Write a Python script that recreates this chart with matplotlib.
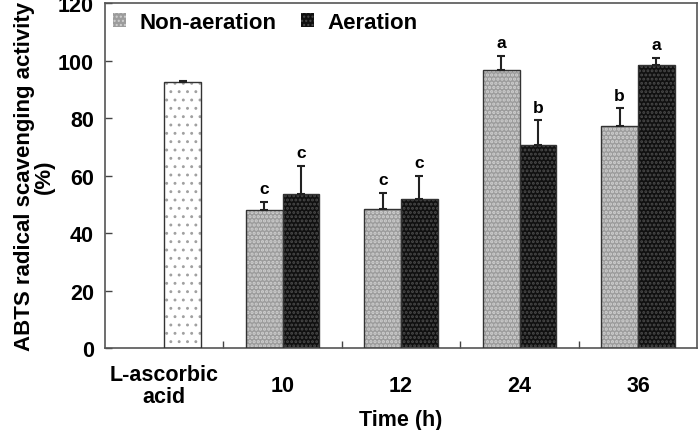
import matplotlib
matplotlib.use("Agg")
import matplotlib.pyplot as plt
import numpy as np
from matplotlib.patches import Patch

plt.rcParams['font.family'] = ['Liberation Sans', 'DejaVu Sans']
plt.rcParams['font.weight'] = 'bold'

categories = ["L-ascorbic\nacid", "10", "12", "24", "36"]
ascorbic_value = 92.5
ascorbic_err = 0.3
non_aeration = [48.0, 48.3, 96.8, 77.4]
non_aeration_err = [2.8, 5.7, 5.0, 6.0]
aeration = [53.5, 52.0, 70.8, 98.4]
aeration_err = [9.8, 8.0, 8.5, 2.5]
non_letters = ["c", "c", "a", "b"]
aer_letters = ["c", "c", "b", "a"]

NON_FACE, NON_HATCH = '#9c9c9c', '#d0d0d0'
AER_FACE, AER_HATCH = '#101010', '#4a4a4a'

fig = plt.figure(figsize=(7.0, 4.31), dpi=100)
ax = fig.add_axes([0.150, 0.190, 0.846, 0.800])

w = 0.31
x = np.arange(len(categories))
xt = x[1:]

def hbar(xpos, h, face, hcol, hatch, hlw):
    with plt.rc_context({'hatch.linewidth': hlw}):
        ax.bar(xpos, h, w, color=face, edgecolor=hcol, hatch=hatch, linewidth=0, zorder=2)
    ax.bar(xpos, h, w, fill=False, edgecolor='#333333', linewidth=1.0, zorder=3)

# L-ascorbic acid bar (right slot)
hbar(x[0] + w / 2, ascorbic_value, 'white', '#a0a0a0', '..', 0.9)
ax.errorbar(x[0] + w / 2, ascorbic_value, yerr=[[0], [ascorbic_err]], fmt='none',
            ecolor='#222222', elinewidth=1.5, capsize=3, capthick=1.5, zorder=4)

hbar(xt - w / 2, non_aeration, NON_FACE, NON_HATCH, '....', 1.6)
hbar(xt + w / 2, aeration, AER_FACE, AER_HATCH, '....', 1.4)

ekw = dict(fmt='none', ecolor='#222222', elinewidth=1.5, capsize=3, capthick=1.5, zorder=4)
ax.errorbar(xt - w / 2, non_aeration, yerr=[np.zeros(4), non_aeration_err], **ekw)
ax.errorbar(xt + w / 2, aeration, yerr=[np.zeros(4), aeration_err], **ekw)

for xi, v, e, l in zip(xt - w / 2, non_aeration, non_aeration_err, non_letters):
    ax.text(xi, v + e + 2.0, l, ha='center', va='bottom', fontsize=12.5, fontweight='bold')
for xi, v, e, l in zip(xt + w / 2, aeration, aeration_err, aer_letters):
    ax.text(xi, v + e + 2.0, l, ha='center', va='bottom', fontsize=12.5, fontweight='bold')

ax.set_xlim(-0.5, len(categories) - 0.5)
ax.set_ylim(0, 120)
ax.set_yticks(np.arange(0, 121, 20))
ax.set_xticks(x)
ax.set_xticklabels(categories, fontsize=15.5, fontweight='bold', va='center', linespacing=1.1)
ax.set_xticks(np.arange(0.5, len(categories) - 0.5, 1), minor=True)
ax.tick_params(axis='x', which='major', length=0, pad=27)
ax.tick_params(axis='x', which='minor', direction='in', length=5, width=1, color='#444444')
ax.tick_params(axis='y', direction='in', length=5, width=1, color='#444444', labelsize=15.5, pad=8)
for lab in ax.get_yticklabels():
    lab.set_fontweight('bold')

for s in ax.spines.values():
    s.set_color('#555555')
    s.set_linewidth(1.2)

ax.set_xlabel("Time (h)", fontsize=15.5, fontweight='bold', labelpad=1)
ax.set_ylabel("ABTS radical scavenging activity\n(%)", fontsize=16, fontweight='bold',
              linespacing=0.95, labelpad=2)

handles = [Patch(facecolor=NON_FACE, edgecolor=NON_HATCH, hatch='....', linewidth=0),
           Patch(facecolor=AER_FACE, edgecolor=AER_HATCH, hatch='....', linewidth=0)]
ax.legend(handles, ["Non-aeration", "Aeration"], loc='upper left', ncol=2, frameon=False,
          prop={'weight': 'bold', 'size': 16}, handlelength=0.6, handleheight=0.6,
          handletextpad=0.6, columnspacing=1.1, borderpad=0, borderaxespad=0,
          bbox_to_anchor=(0.0135, 0.975))

fig.savefig("out.png", dpi=100)
